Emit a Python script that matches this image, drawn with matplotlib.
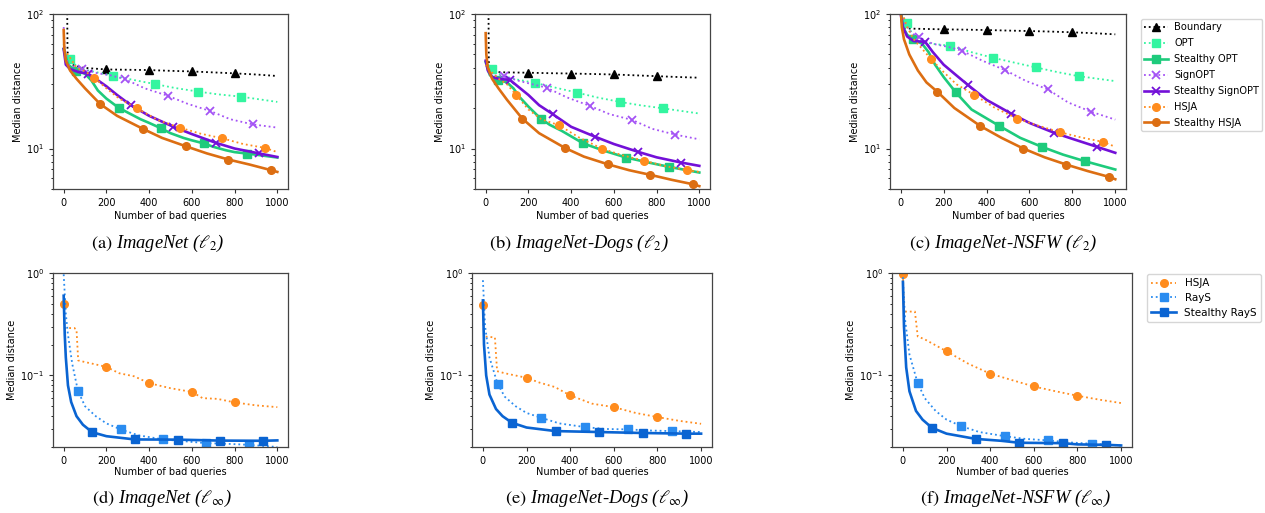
import numpy as np
import matplotlib
matplotlib.use('Agg')
import matplotlib.pyplot as plt

W, H = 1265, 513
TICK_SIZE = 7
CAPTION_SIZE = 13.3

# line styles per method
STYLES = {
    'Boundary': dict(color='black', ls=':', marker='^', lw=1.3),
    'OPT': dict(color='#33f5a0', ls=':', marker='s', lw=1.3),
    'Stealthy OPT': dict(color='#1ecb7c', ls='-', marker='s', lw=1.9),
    'SignOPT': dict(color='#a452f5', ls=':', marker='x', lw=1.3),
    'Stealthy SignOPT': dict(color='#7310d8', ls='-', marker='x', lw=1.9),
    'HSJA': dict(color='#ff8c1e', ls=':', marker='o', lw=1.3),
    'Stealthy HSJA': dict(color='#dc6e12', ls='-', marker='o', lw=1.9),
    'RayS': dict(color='#2a8cf0', ls=':', marker='s', lw=1.3),
    'Stealthy RayS': dict(color='#0a64d2', ls='-', marker='s', lw=1.9),
}

# marker positions (number of bad queries)
MARKS = {
    'Boundary': [200, 400, 600, 800],
    'OPT': [29, 229, 429, 629, 829],
    'Stealthy OPT': [57, 257, 457, 657, 857],
    'SignOPT': [86, 286, 486, 686, 886],
    'Stealthy SignOPT': [114, 314, 514, 714, 914],
    'HSJA': [143, 343, 543, 743, 943],
    'Stealthy HSJA': [171, 371, 571, 771, 971],
}
MARKS_INF = {
    'HSJA': [0, 200, 400, 600, 800],
    'RayS': [67, 267, 467, 667, 867],
    'Stealthy RayS': [133, 333, 533, 733, 933],
}

# (a) ImageNet l2
IMAGENET_L2 = {
    'Boundary': ([15, 18, 40, 80, 120, 200, 300, 400, 500, 600, 700, 800, 900, 1000],
                 [200, 52, 42, 40, 39.5, 38.7, 38.5, 38.3, 37.8, 37.4, 36.8, 36.2, 35.5, 34.6]),
    'OPT': ([0, 10, 29, 60, 100, 150, 229, 320, 429, 520, 629, 720, 829, 1000],
            [60, 50, 46, 41, 38.5, 37, 34.8, 32.5, 30.1, 28.2, 26.5, 25.3, 24.3, 22.2]),
    'Stealthy OPT': ([0, 20, 57, 100, 130, 160, 200, 257, 300, 360, 400, 457, 500, 560, 600, 657, 700, 760, 800, 857, 900, 1000],
                     [55, 42, 38, 36, 32, 27, 23.5, 20.1, 18.5, 16.5, 15.5, 14.1, 13, 12, 11.5, 10.9, 10.3, 9.7, 9.4, 9.18, 9.0, 8.57]),
    'SignOPT': ([0, 5, 20, 86, 150, 220, 286, 380, 486, 580, 686, 780, 886, 1000],
                [80, 55, 42, 39, 36.5, 35, 32.8, 28, 24.7, 21.5, 19.0, 16.5, 15.1, 14.3]),
    'Stealthy SignOPT': ([0, 10, 30, 70, 114, 150, 200, 250, 314, 400, 514, 600, 714, 800, 914, 1000],
                         [55, 42, 39, 37, 36, 33, 29, 25, 21, 17.5, 14.5, 12.8, 11.0, 10.0, 9.2, 8.65]),
    'HSJA': ([0, 20, 60, 100, 143, 200, 260, 343, 440, 543, 640, 743, 840, 943, 1000],
             [54, 50, 40, 37.5, 33.6, 28, 23.5, 19.9, 16.3, 14.3, 12.9, 11.9, 10.8, 10.1, 9.4]),
    'Stealthy HSJA': ([0, 3, 10, 30, 60, 100, 171, 250, 371, 460, 571, 670, 771, 870, 971, 1000],
                      [76, 55, 45, 38, 33, 28, 21.4, 17.5, 14, 12, 10.4, 9.2, 8.28, 7.6, 6.9, 6.7]),
}

# (b) ImageNet-Dogs l2
DOGS_L2 = {
    'Boundary': ([12, 15, 50, 100, 200, 300, 400, 500, 600, 700, 800, 900, 1000],
                 [200, 38, 37, 36.8, 36.6, 36.3, 36.1, 35.8, 35.5, 35, 34.5, 34, 33.6]),
    'OPT': ([0, 10, 29, 60, 100, 150, 229, 320, 429, 520, 629, 720, 829, 1000],
            [45, 42, 39.2, 36, 34, 32.5, 30.8, 28.5, 26, 24, 22.2, 21, 19.9, 18.2]),
    'Stealthy OPT': ([0, 20, 57, 100, 130, 160, 200, 257, 300, 357, 457, 557, 657, 757, 857, 1000],
                     [44, 35, 32.5, 31, 28, 24, 20.5, 16.7, 15, 13.5, 10.9, 9.6, 8.57, 7.9, 7.31, 6.63]),
    'SignOPT': ([0, 10, 30, 86, 150, 220, 286, 380, 486, 580, 686, 780, 886, 1000],
                [45, 38, 35, 34.5, 32, 30, 28.3, 24, 20.8, 18, 16.3, 14, 12.7, 11.7]),
    'Stealthy SignOPT': ([0, 10, 30, 60, 114, 150, 200, 250, 314, 400, 514, 600, 714, 800, 914, 1000],
                         [45, 38, 34, 33, 32.3, 29, 25, 21, 18, 14.5, 12.2, 10.8, 9.44, 8.6, 7.87, 7.43]),
    'HSJA': ([0, 20, 60, 100, 143, 200, 260, 343, 440, 543, 640, 743, 840, 943, 1000],
             [42, 38, 33, 30, 25, 19.5, 16.5, 14.9, 12.0, 10, 8.9, 8.1, 7.4, 6.9, 6.7]),
    'Stealthy HSJA': ([0, 3, 10, 30, 60, 100, 171, 250, 371, 460, 571, 671, 771, 871, 971, 1000],
                      [72, 50, 40, 33, 28, 23, 16.7, 13, 10.1, 8.7, 7.64, 6.9, 6.37, 5.85, 5.42, 5.25]),
}

# (c) ImageNet-NSFW l2
NSFW_L2 = {
    'Boundary': ([5, 15, 30, 100, 200, 300, 400, 500, 600, 700, 800, 900, 1000],
                 [110, 80, 78, 77.5, 76.9, 76.5, 76.0, 75.3, 74.7, 74, 73.1, 72, 70.6]),
    'OPT': ([0, 29, 60, 100, 150, 229, 330, 429, 530, 629, 730, 829, 1000],
            [100, 85, 68, 62, 60, 58.1, 52, 47.3, 43.5, 40.1, 37, 34.5, 31.7]),
    'Stealthy OPT': ([0, 10, 30, 57, 100, 130, 160, 200, 257, 330, 457, 557, 657, 757, 857, 1000],
                     [110, 80, 70, 65, 60, 52, 42, 34, 26.1, 19.5, 14.8, 12, 10.3, 9.0, 8.06, 6.98]),
    'SignOPT': ([0, 20, 50, 86, 150, 220, 286, 380, 486, 580, 686, 780, 886, 1000],
                [100, 85, 72, 67, 60, 57, 53.3, 45, 38.3, 32, 27.5, 22, 18.8, 16.4]),
    'Stealthy SignOPT': ([0, 10, 30, 60, 114, 150, 200, 250, 314, 400, 514, 600, 714, 800, 914, 1000],
                         [100, 80, 68, 63, 62, 52, 42, 36, 29.6, 23, 18.2, 15.5, 13.1, 11.8, 10.3, 9.29]),
    'HSJA': ([0, 30, 60, 100, 143, 200, 260, 343, 440, 543, 640, 743, 840, 943, 1000],
             [110, 80, 65, 55, 46, 37, 30, 25, 20, 16.7, 14.8, 13.2, 12.1, 11.2, 10.3]),
    'Stealthy HSJA': ([0, 5, 15, 40, 80, 120, 171, 250, 371, 470, 571, 671, 771, 871, 971, 1000],
                      [110, 80, 65, 50, 38, 31, 26.4, 20, 14.7, 12, 10, 8.6, 7.6, 6.8, 6.15, 5.91]),
}

# (d) ImageNet linf
IMAGENET_INF = {
    'HSJA': ([0, 5, 50, 60, 68, 100, 150, 200, 260, 330, 400, 500, 600, 650, 720, 800, 900, 1000],
             [0.5, 0.29, 0.29, 0.28, 0.14, 0.135, 0.128, 0.121, 0.105, 0.098, 0.084, 0.075, 0.069, 0.06, 0.059, 0.0545, 0.051, 0.049]),
    'RayS': ([0, 10, 20, 40, 67, 100, 150, 200, 267, 350, 467, 560, 667, 760, 867, 1000],
             [0.97, 0.4, 0.25, 0.13, 0.0703, 0.05, 0.04, 0.034, 0.0297, 0.026, 0.0237, 0.0228, 0.0218, 0.0215, 0.021, 0.02]),
    'Stealthy RayS': ([0, 5, 10, 20, 35, 60, 90, 133, 200, 333, 533, 733, 933, 1000],
                      [0.6, 0.25, 0.15, 0.08, 0.055, 0.04, 0.033, 0.0279, 0.0255, 0.0237, 0.0236, 0.0231, 0.023, 0.0232]),
}

# (e) ImageNet-Dogs linf
DOGS_INF = {
    'HSJA': ([0, 5, 55, 65, 100, 200, 260, 330, 400, 500, 600, 700, 800, 900, 1000],
             [0.49, 0.24, 0.235, 0.11, 0.105, 0.0948, 0.085, 0.077, 0.0638, 0.053, 0.049, 0.043, 0.0392, 0.036, 0.0337]),
    'RayS': ([0, 10, 30, 67, 100, 150, 200, 267, 350, 467, 560, 667, 760, 867, 1000],
             [0.85, 0.3, 0.15, 0.083, 0.062, 0.05, 0.043, 0.0386, 0.034, 0.0313, 0.030, 0.0297, 0.029, 0.0286, 0.028]),
    'Stealthy RayS': ([0, 5, 15, 30, 60, 90, 133, 200, 333, 533, 733, 933, 1000],
                      [0.54, 0.2, 0.1, 0.065, 0.047, 0.04, 0.0345, 0.031, 0.0286, 0.028, 0.0274, 0.027, 0.027]),
}

# (f) ImageNet-NSFW linf
NSFW_INF = {
    'HSJA': ([0, 5, 55, 68, 100, 200, 300, 400, 500, 600, 700, 800, 900, 1000],
             [0.97, 0.42, 0.42, 0.24, 0.225, 0.172, 0.13, 0.104, 0.09, 0.078, 0.07, 0.0633, 0.058, 0.0537]),
    'RayS': ([0, 10, 30, 67, 100, 150, 200, 267, 350, 467, 560, 667, 760, 867, 1000],
             [0.91, 0.35, 0.16, 0.085, 0.06, 0.045, 0.037, 0.032, 0.028, 0.0255, 0.024, 0.0232, 0.0222, 0.0215, 0.0207]),
    'Stealthy RayS': ([0, 5, 15, 30, 60, 90, 133, 200, 333, 450, 533, 733, 800, 933, 1000],
                      [0.82, 0.3, 0.12, 0.07, 0.045, 0.037, 0.0308, 0.027, 0.024, 0.023, 0.022, 0.0218, 0.0212, 0.021, 0.0207]),
}

CAPTIONS_TOP = [r'$\mathrm{(a)}$ ImageNet ($\ell_2$)',
                r'$\mathrm{(b)}$ ImageNet-Dogs ($\ell_2$)',
                r'$\mathrm{(c)}$ ImageNet-NSFW ($\ell_2$)']
CAPTIONS_BOT = [r'$\mathrm{(d)}$ ImageNet ($\ell_\infty$)',
                r'$\mathrm{(e)}$ ImageNet-Dogs ($\ell_\infty$)',
                r'$\mathrm{(f)}$ ImageNet-NSFW ($\ell_\infty$)']


def px_axes(fig, x0, y0, x1, y1):
    return fig.add_axes([x0 / W, 1 - y1 / H, (x1 - x0) / W, (y1 - y0) / H])


def draw_panel(ax, data, marks, ylim, labelpad):
    for name, (xs, ys) in data.items():
        st = STYLES[name]
        idx = [i for i, v in enumerate(xs) if v in marks[name]]
        ax.plot(xs, ys, color=st['color'], ls=st['ls'], lw=st['lw'],
                marker=st['marker'], markevery=idx, markersize=5.5,
                mew=1.3 if st['marker'] == 'x' else 1.0, label=name)
    ax.set_yscale('log')
    ax.set_ylim(*ylim)
    ax.set_xticks([0, 200, 400, 600, 800, 1000])
    ax.tick_params(labelsize=TICK_SIZE, length=3, width=0.8, color='#333333')
    ax.tick_params(which='minor', length=1.8, width=0.6)
    for sp in ax.spines.values():
        sp.set_color('#444444')
        sp.set_linewidth(0.9)
    ax.set_xlabel('Number of bad queries', fontsize=TICK_SIZE, labelpad=labelpad)
    ax.set_ylabel('Median distance', fontsize=TICK_SIZE, labelpad=2)


fig = plt.figure(figsize=(W / 100, H / 100), dpi=100)

top_boxes = [(53, 14, 288, 189), (475, 14, 710, 189), (890, 14, 1126, 189)]
bot_boxes = [(53, 273, 288, 447), (472, 273, 712, 447), (892, 273, 1132, 447)]

top_axes = []
for box, data in zip(top_boxes, [IMAGENET_L2, DOGS_L2, NSFW_L2]):
    ax = px_axes(fig, *box)
    draw_panel(ax, data, MARKS, (5, 100), 2)
    top_axes.append(ax)

bot_axes = []
for box, data in zip(bot_boxes, [IMAGENET_INF, DOGS_INF, NSFW_INF]):
    ax = px_axes(fig, *box)
    draw_panel(ax, data, MARKS_INF, (0.02, 1), 0.5)
    bot_axes.append(ax)

# captions
cap_kw = dict(fontsize=CAPTION_SIZE, family='Liberation Serif', style='italic',
              math_fontfamily='stix', ha='center', va='center')
for cx, txt in zip([158, 579, 1003], CAPTIONS_TOP):
    fig.text(cx / W, 1 - 243 / H, txt, **cap_kw)
for cx, txt in zip([162, 597, 1016], CAPTIONS_BOT):
    fig.text(cx / W, 1 - 498 / H, txt, **cap_kw)

# legends
h, l = top_axes[2].get_legend_handles_labels()
fig.legend(h, l, loc='upper left', bbox_to_anchor=(1141 / W, 1 - 19 / H),
           fontsize=7.1, handlelength=2.4, handletextpad=0.6, borderaxespad=0,
           borderpad=0.35, labelspacing=0.6, fancybox=True, framealpha=0.8)
h, l = bot_axes[2].get_legend_handles_labels()
fig.legend(h, l, loc='upper left', bbox_to_anchor=(1147 / W, 1 - 274 / H),
           fontsize=7.5, handlelength=2.4, borderaxespad=0, labelspacing=0.45,
           fancybox=True, framealpha=0.8)

fig.savefig('out.png', dpi=100)
